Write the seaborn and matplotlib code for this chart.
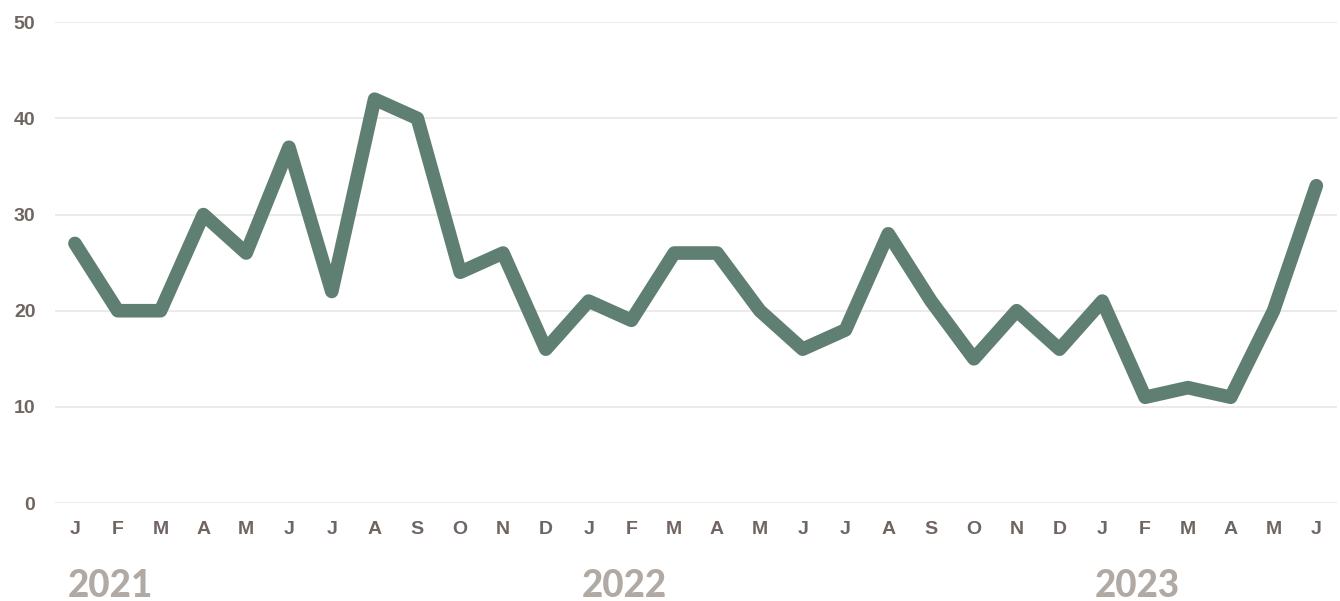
import matplotlib
matplotlib.use("Agg")
import matplotlib.pyplot as plt
import seaborn as sns
import pandas as pd
import numpy as np

months = ["J","F","M","A","M","J","J","A","S","O","N","D",
          "J","F","M","A","M","J","J","A","S","O","N","D",
          "J","F","M","A","M","J"]
values = [27, 20, 20, 30, 26, 37, 22, 42, 40, 24, 26, 16,
          21, 19, 26, 26, 20, 16, 18, 28, 21, 15, 20, 16,
          21, 11, 12, 11, 20, 33]
years = ["2021", "2022", "2023"]
year_start_idx = [0, 12, 24]
y_ticks = [0, 10, 20, 30, 40, 50]

sns.set_theme(style="white")
plt.rcParams['font.family'] = ['Liberation Sans', 'DejaVu Sans']

df = pd.DataFrame({"idx": np.arange(len(values)), "value": values})

fig = plt.figure(figsize=(13.4, 6.01), dpi=100)
ax = fig.add_axes([0.041, 0.163, 0.957, 0.800])

line_color = "#5f7f72"
tick_color = "#6f6561"
year_color = "#b1aaa4"
grid_color = "#e9e7e5"

for yv in y_ticks:
    ax.axhline(yv, color=grid_color, lw=1.2, zorder=0)

sns.lineplot(data=df, x="idx", y="value", ax=ax, color=line_color,
             linewidth=9.8, solid_capstyle="round", solid_joinstyle="round",
             clip_on=False, zorder=3)

ax.set_xlim(-0.467, 29.49)
ax.set_ylim(0, 50)
ax.set_xticks(np.arange(len(months)))
ax.set_xticklabels(months)
ax.set_yticks(y_ticks)
ax.set_yticklabels([str(v) for v in y_ticks])
ax.set_xlabel("")
ax.set_ylabel("")
for s in ax.spines.values():
    s.set_visible(False)
ax.tick_params(axis="x", length=0, pad=13, labelsize=14, labelcolor=tick_color)
ax.tick_params(axis="y", length=0, pad=14, labelsize=14, labelcolor=tick_color)
for lab in ax.get_xticklabels() + ax.get_yticklabels():
    lab.set_fontweight("bold")

trans = matplotlib.transforms.blended_transform_factory(ax.transData, ax.transAxes)
for yr, i in zip(years, year_start_idx):
    ax.text(i - 0.17, -0.172, yr, transform=trans, ha="left", va="center",
            fontsize=26.5, fontweight="black", color=year_color,
            family=["Lato", "DejaVu Sans"])

fig.savefig("out.png", dpi=100, facecolor="white")
